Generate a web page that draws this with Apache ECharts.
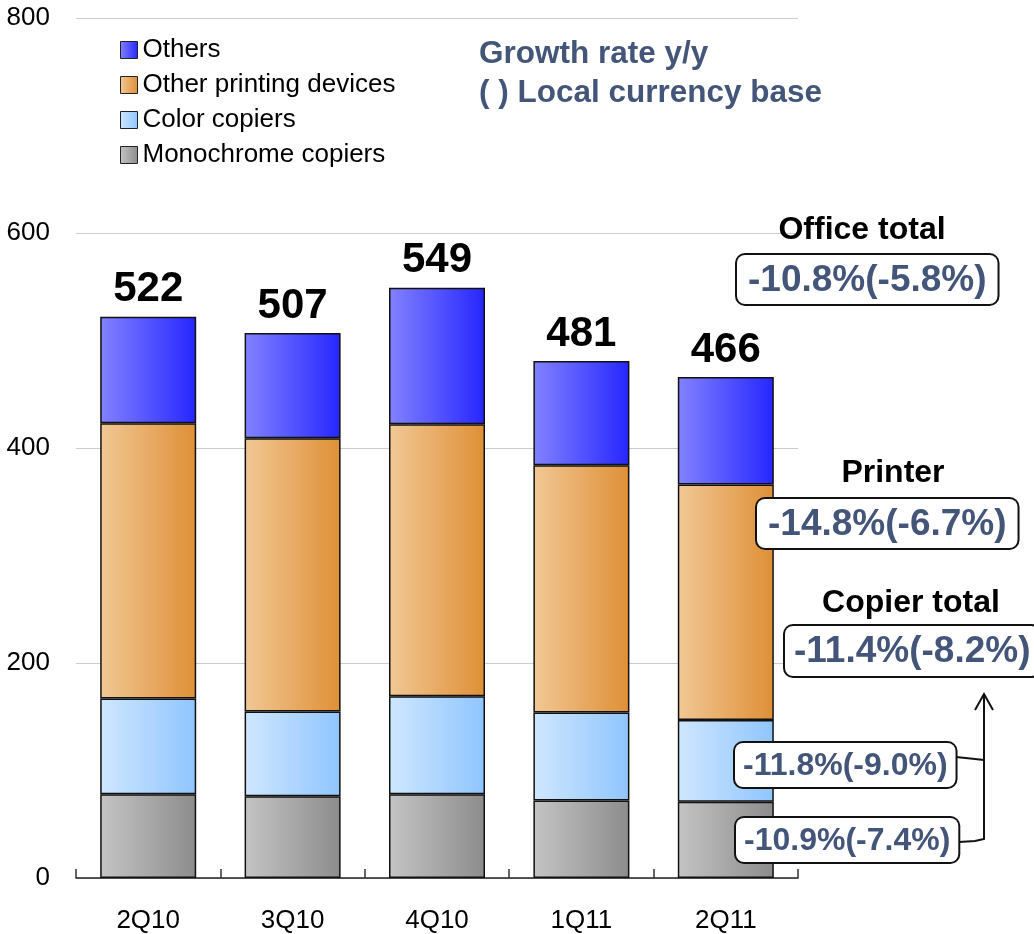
<!DOCTYPE html>
<html>
<head>
<meta charset="utf-8">
<script src="https://cdn.jsdelivr.net/npm/echarts@6/dist/echarts.min.js"></script>
<style>
  html, body { margin: 0; padding: 0; background: #fff; }
  #chart { width: 1034px; height: 934px; }
</style>
</head>
<body>
<div id="chart"></div>
<script>
const categories = ['2Q10', '3Q10', '4Q10', '1Q11', '2Q11']
const monochrome = [78, 76, 78, 72, 71]
const colorCopiers = [89, 79, 91, 82, 76]
const otherPrinting = [256, 254, 253, 230, 219]
const others = [99, 98, 127, 97, 100]
const totals = [522, 507, 549, 481, 466]

const FONT = '"Liberation Sans", Arial, sans-serif'
const NAVY = '#44557a'

const grad = (a, b) => new echarts.graphic.LinearGradient(0, 0, 1, 0, [
  { offset: 0, color: a },
  { offset: 1, color: b }
])

const barSeries = (name, data, c1, c2, extra) => Object.assign({
  name: name,
  type: 'bar',
  stack: 'total',
  barWidth: 96,
  data: data,
  itemStyle: {
    color: grad(c1, c2),
    borderColor: '#111',
    borderWidth: 1.5
  }
}, extra || {})

// boxed growth-rate label
const box = (x, y, text, size, pad) => ({
  type: 'text',
  left: x,
  top: y,
  z: 100,
  style: {
    text: text,
    fill: NAVY,
    font: 'bold ' + size + 'px ' + FONT,
    backgroundColor: '#fff',
    borderColor: '#111',
    borderWidth: 2,
    borderRadius: 8,
    padding: pad
  }
})

const title = (cx, y, text) => ({
  type: 'text',
  x: cx,
  y: y,
  z: 100,
  style: {
    text: text,
    fill: '#000',
    font: 'bold 32px ' + FONT,
    textAlign: 'center',
    textVerticalAlign: 'middle'
  }
})

const chart = echarts.init(document.getElementById('chart'))

chart.setOption({
  animation: false,
  textStyle: { fontFamily: FONT },
  grid: { left: 76, right: 236, top: 18, bottom: 56 },
  legend: {
    orient: 'vertical',
    left: 115,
    top: 32,
    itemWidth: 17,
    itemHeight: 17,
    itemGap: 9,
    icon: 'rect',
    data: ['Others', 'Other printing devices', 'Color copiers', 'Monochrome copiers'],
    itemStyle: { borderColor: '#222', borderWidth: 1 },
    textStyle: { fontSize: 26, color: '#000', lineHeight: 26 }
  },
  xAxis: {
    type: 'category',
    data: categories,
    axisLine: { lineStyle: { color: '#222', width: 1.5 } },
    axisTick: { show: true, inside: true, length: 9, lineStyle: { color: '#333', width: 1.5 } },
    axisLabel: { fontSize: 26, color: '#000', margin: 30 }
  },
  yAxis: {
    type: 'value',
    min: 0,
    max: 800,
    interval: 200,
    axisLine: { show: false },
    axisTick: { show: false },
    axisLabel: { fontSize: 26, color: '#000', margin: 26 },
    splitLine: { lineStyle: { color: '#cccccc', width: 1 } }
  },
  series: [
    barSeries('Monochrome copiers', monochrome, '#c4c4c4', '#8c8c8c'),
    barSeries('Color copiers', colorCopiers, '#cfe7ff', '#8fc5ff'),
    barSeries('Other printing devices', otherPrinting, '#f1c895', '#df8f36'),
    barSeries('Others', others, '#8282ff', '#2626ff', {
      label: {
        show: true,
        position: 'top',
        distance: 6,
        formatter: p => totals[p.dataIndex],
        fontSize: 42,
        fontWeight: 'bold',
        color: '#000'
      }
    })
  ],
  graphic: [
    {
      type: 'text',
      left: 479,
      top: 35,
      style: {
        text: 'Growth rate y/y\n( ) Local currency base',
        fill: NAVY,
        font: 'bold 31.5px ' + FONT,
        lineHeight: 39
      }
    },
    title(862, 230, 'Office total'),
    box(735, 253, '-10.8%(-5.8%)', 37, [7, 11, 5, 11]),
    title(893, 473, 'Printer'),
    box(755, 497, '-14.8%(-6.7%)', 37, [7, 11, 5, 11]),
    title(911, 603, 'Copier total'),
    box(783, 624, '-11.4%(-8.2%)', 37, [7, 9, 6, 9]),
    box(733, 741, '-11.8%(-9.0%)', 32, [7, 8, 5, 8]),
    box(734, 816, '-10.9%(-7.4%)', 32, [7, 8, 5, 8]),
    {
      type: 'polyline',
      z: 90,
      shape: { points: [[956, 757], [975, 759], [984, 760]] },
      style: { stroke: '#111', lineWidth: 2, fill: null }
    },
    {
      type: 'polyline',
      z: 90,
      shape: { points: [[959, 842], [975, 841], [984, 839], [984, 694]] },
      style: { stroke: '#111', lineWidth: 2, fill: null }
    },
    {
      type: 'polyline',
      z: 90,
      shape: { points: [[975, 710], [984, 694], [993, 710]] },
      style: { stroke: '#111', lineWidth: 2, fill: null }
    }
  ]
})
</script>
</body>
</html>
